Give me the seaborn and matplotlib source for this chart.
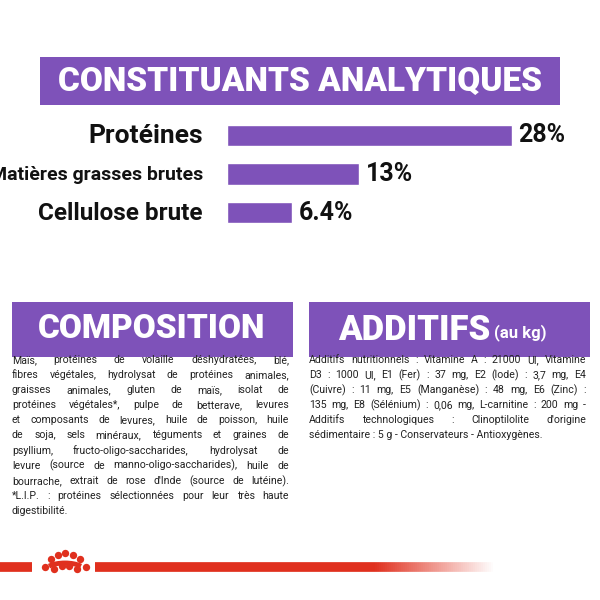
import numpy as np
import pandas as pd
import matplotlib
matplotlib.use("Agg")
import matplotlib.pyplot as plt
import seaborn as sns
from matplotlib.patches import Rectangle, Arc

# données
nutriments = ["Protéines", "Matières grasses brutes", "Cellulose brute"]
valeurs = [28, 13, 6.4]
etiquettes = ["28%", "13%", "6.4%"]

composition = [
    "Maïs, protéines de volaille déshydratées, blé,",
    "fibres végétales, hydrolysat de protéines animales,",
    "graisses animales, gluten de maïs, isolat de",
    "protéines végétales*, pulpe de betterave, levures",
    "et composants de levures, huile de poisson, huile",
    "de soja, sels minéraux, téguments et graines de",
    "psyllium, fructo-oligo-saccharides, hydrolysat de",
    "levure (source de manno-oligo-saccharides), huile de",
    "bourrache, extrait de rose d'Inde (source de lutéine).",
    "*L.I.P. : protéines sélectionnées pour leur très haute",
    "digestibilité.",
]
additifs = [
    "Additifs nutritionnels : Vitamine A : 21000 UI, Vitamine",
    "D3 : 1000 UI, E1 (Fer) : 37 mg, E2 (Iode) : 3,7 mg, E4",
    "(Cuivre) : 11 mg, E5 (Manganèse) : 48 mg, E6 (Zinc) :",
    "135 mg, E8 (Sélénium) : 0,06 mg, L-carnitine : 200 mg -",
    "Additifs technologiques : Clinoptilolite d'origine",
    "sédimentaire : 5 g - Conservateurs - Antioxygènes.",
]

violet = "#7e52b9"
rouge = "#e0301e"
sns.set_theme(style="white")
plt.rcParams["font.family"] = ["Roboto", "DejaVu Sans"]

fig = plt.figure(figsize=(6, 6), dpi=100)
fig.patch.set_facecolor("white")

# calque en pixels
bg = fig.add_axes([0, 0, 1, 1])
bg.set_xlim(0, 600)
bg.set_ylim(600, 0)
bg.axis("off")
renderer = fig.canvas.get_renderer()

def bandeau(x0, y0, w, h):
    bg.add_patch(Rectangle((x0, y0), w, h, color=violet, lw=0))

def largeur(t):
    bb = t.get_window_extent(renderer=renderer)
    return bb.width

def paragraphe(lignes, x0, y0, w, pas, fs=7.6):
    # texte justifié mot par mot
    for i, ligne in enumerate(lignes):
        y = y0 + i * pas
        if i == len(lignes) - 1:
            bg.text(x0, y, ligne, fontsize=fs, color="#222222", va="center")
            continue
        mots = ligne.split(" ")
        objets = [bg.text(0, y, m, fontsize=fs, color="#222222", va="center") for m in mots]
        larg = [largeur(o) for o in objets]
        esp = (w - sum(larg)) / max(len(mots) - 1, 1)
        x = x0
        for o, l in zip(objets, larg):
            o.set_x(x)
            x += l + esp

bandeau(40, 57, 520, 48)
bg.text(300, 82, "CONSTITUANTS ANALYTIQUES", color="white", fontsize=24,
        fontweight="black", ha="center", va="center")

bandeau(12, 302, 281, 55)
bg.text(152, 329, "COMPOSITION", color="white", fontsize=24, fontweight="black",
        ha="center", va="center")
bandeau(309, 302, 281, 55)
bg.text(338, 330, "ADDITIFS", color="white", fontsize=25, fontweight="black",
        ha="left", va="center")
bg.text(494, 333, "(au kg)", color="white", fontsize=12, fontweight="bold",
        ha="left", va="center")

paragraphe(composition, 12, 360, 277, 15.1)
paragraphe(additifs, 309, 360, 277, 15.1)

# barres
ax = fig.add_axes([227 / 600, 1 - 232 / 600, 330 / 600, 116 / 600])
df = pd.DataFrame({"nutriment": nutriments, "valeur": valeurs})
sns.barplot(data=df, x="valeur", y="nutriment", color=violet, saturation=1,
            width=0.55, ax=ax)
ax.set_xlim(0, 32.4)
ax.axis("off")
tailles_lab = [19, 14, 17.5]
for i, (v, e) in enumerate(zip(valeurs, etiquettes)):
    ax.text(v + 0.6, i, e, fontsize=18, fontweight="bold", color="#111111",
            va="center", ha="left")
    bg.text(203, 136 + i * 38.5, nutriments[i], fontsize=tailles_lab[i],
            fontweight="bold", color="#111111", ha="right", va="center")

# ligne rouge et couronne
bg.plot([0, 32], [567, 567], color=rouge, lw=7, solid_capstyle="butt")
grad = np.linspace(1, 0, 200)
for k in range(199):
    a = 1 if grad[k] > 0.3 else grad[k] / 0.3
    bg.plot([95 + k * 2, 97 + k * 2], [567, 567], color=rouge, lw=7, alpha=a,
            solid_capstyle="butt")
cx = [45, 51, 58, 65, 73, 80, 86, 54, 62, 69, 77]
cy = [567, 559, 555, 553, 555, 559, 567, 569, 566, 566, 569]
bg.scatter(cx, cy, s=28, color=rouge, lw=0)
bg.add_patch(Arc((65, 572), 42, 18, theta1=200, theta2=340, color=rouge, lw=3.5))

fig.savefig("out.png", dpi=100)
